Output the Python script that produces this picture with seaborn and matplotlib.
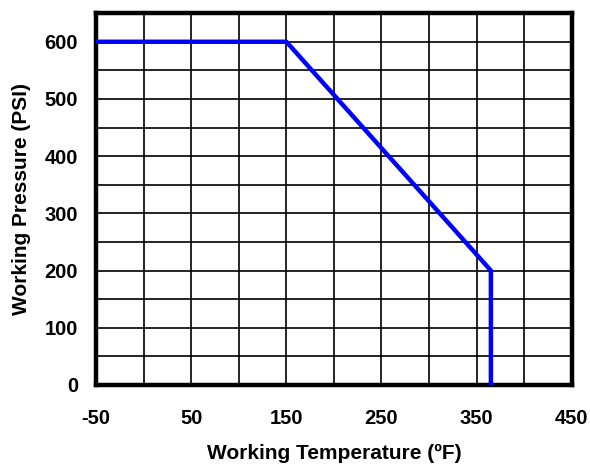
import matplotlib
matplotlib.use("Agg")
import matplotlib.pyplot as plt
import seaborn as sns
import pandas as pd
import numpy as np

temperature = [-50, 150, 365, 365]
pressure = [600, 600, 200, 0]
x_ticks = [-50, 50, 150, 250, 350, 450]
y_ticks = [0, 100, 200, 300, 400, 500, 600]

sns.set_theme(style="white")
plt.rcParams['font.family'] = ['Liberation Sans', 'DejaVu Sans']
plt.rcParams['axes.unicode_minus'] = False

fig = plt.figure(figsize=(5.9, 4.7), dpi=100)
ax = fig.add_axes([0.163, 0.181, 0.806, 0.791])

df = pd.DataFrame({"t": temperature, "p": pressure})
sns.lineplot(data=df, x="t", y="p", sort=False, estimator=None, errorbar=None,
             color="#0000ff", linewidth=3.2, ax=ax, zorder=5)

ax.set_xlim(-50, 450)
ax.set_ylim(0, 650)
ax.set_xticks(x_ticks)
ax.set_xticks(np.arange(0, 451, 100), minor=True)
ax.set_yticks(y_ticks)
ax.set_yticks(np.arange(50, 651, 100), minor=True)
ax.grid(True, which="both", color="black", linewidth=1.2)
ax.tick_params(which="both", length=0)
ax.tick_params(axis="x", pad=17)
ax.tick_params(axis="y", pad=13)
ax.set_xticklabels([str(v) for v in x_ticks])
ax.set_yticklabels([str(v) for v in y_ticks])
for lbl in ax.get_xticklabels() + ax.get_yticklabels():
    lbl.set_fontsize(14.5)
    lbl.set_fontweight("bold")
    lbl.set_color("black")
for s in ax.spines.values():
    s.set_visible(True)
    s.set_color("black")
    s.set_linewidth(3.2)

ax.set_xlabel("Working Temperature (ºF)", fontsize=15, fontweight="bold", color="black", labelpad=12)
ax.set_ylabel("Working Pressure (PSI)", fontsize=15, fontweight="bold", color="black", labelpad=10)

fig.savefig("out.png", dpi=100)
